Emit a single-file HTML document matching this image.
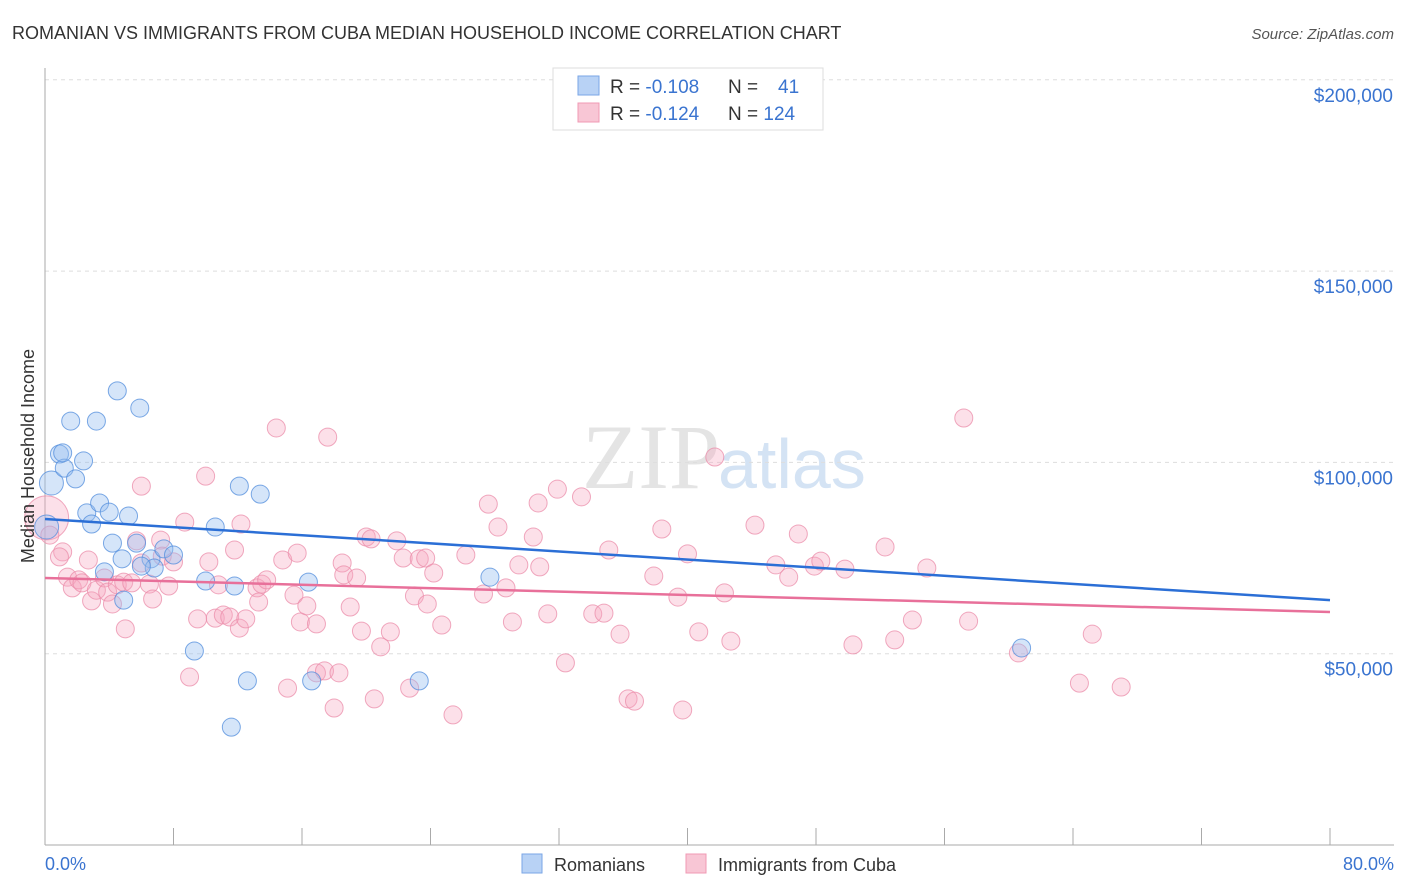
<!DOCTYPE html>
<html><head><meta charset="utf-8">
<style>
body{margin:0;background:#fff;font-family:"Liberation Sans",sans-serif;}
#wrap{position:relative;width:1406px;height:892px;overflow:hidden;}
</style></head>
<body>
<div id="wrap">
<svg id="chart" width="1406" height="892">
  <text x="12" y="39" font-size="18" fill="#333">ROMANIAN VS IMMIGRANTS FROM CUBA MEDIAN HOUSEHOLD INCOME CORRELATION CHART</text>
  <text x="1394" y="39" font-size="15" fill="#555" font-style="italic" text-anchor="end">Source: ZipAtlas.com</text>
  <text x="720" y="488" font-size="92" fill="#e4e4e4" text-anchor="end" font-family="Liberation Serif">ZIP</text>
  <text x="718" y="488" font-size="70" fill="#d4e3f4">atlas</text>
  <g id="grid"></g>
  <g id="axes"></g>
  <g id="pts"></g>
  <g id="lines"></g>
  <text x="34" y="456" font-size="18" fill="#333" text-anchor="middle" transform="rotate(-90 34 456)">Median Household Income</text>
  <text x="45" y="870" font-size="18" fill="#3a74d0">0.0%</text>
  <text x="1394" y="870" font-size="18" fill="#3a74d0" text-anchor="end">80.0%</text>
  <g>
    <rect x="553" y="68" width="270" height="62" fill="#fff" stroke="#ddd"/>
    <rect x="578" y="76" width="21" height="19" fill="#b8d2f5" stroke="#7aa6e6"/>
    <rect x="578" y="103" width="21" height="19" fill="#f8c6d5" stroke="#f09ab4"/>
    <text x="610" y="93" font-size="19" fill="#333">R = <tspan fill="#3a74d0">-0.108</tspan></text>
    <text x="728" y="93" font-size="19" fill="#333">N = <tspan fill="#3a74d0" x="778">41</tspan></text>
    <text x="610" y="120" font-size="19" fill="#333">R = <tspan fill="#3a74d0">-0.124</tspan></text>
    <text x="728" y="120" font-size="19" fill="#333">N = <tspan fill="#3a74d0">124</tspan></text>
  </g>
  <g>
    <rect x="522" y="854" width="20" height="19" fill="#b8d2f5" stroke="#7aa6e6"/>
    <text x="554" y="871" font-size="18" fill="#333">Romanians</text>
    <rect x="686" y="854" width="20" height="19" fill="#f8c6d5" stroke="#f09ab4"/>
    <text x="718" y="871" font-size="18" fill="#333">Immigrants from Cuba</text>
  </g>
</svg>
</div>
<script>
const yTicks=[50,100,150,200];
const yTickLabels=["$50,000","$100,000","$150,000","$200,000"];
const xTicks=[0,8,16,24,32,40,48,56,64,72,80];
const blueX=[0.4,0.1,0.9,1.2,1.6,1.1,1.9,2.4,3.2,4.5,5.9,2.6,3.4,4.0,5.2,2.9,4.2,5.7,4.8,6.6,7.4,8.0,6.8,3.7,6.0,4.9,10.0,11.8,10.6,12.1,13.4,9.3,12.6,11.6,16.6,16.4,23.3,27.7,60.8];
const blueY=[94.6,83.1,102.2,98.5,110.8,102.5,95.7,100.4,110.8,118.7,114.2,86.8,89.4,87.0,86.0,83.9,78.9,78.9,74.8,74.8,77.4,75.8,72.4,71.4,72.9,64.0,69.0,67.7,83.1,93.8,91.7,50.7,42.9,30.8,42.9,68.7,42.9,70.0,51.5];
const pinkX=[0.1,0.3,1.1,0.9,1.4,1.7,2.1,2.3,2.7,2.9,3.2,3.7,3.9,4.2,4.5,4.9,5.0,5.4,5.7,6.0,6.5,6.7,7.2,7.3,7.7,8.0,6.0,8.7,9.0,9.5,10.0,10.2,10.6,10.8,11.1,11.5,11.8,12.1,12.2,12.5,13.2,13.3,13.5,13.8,14.4,14.8,15.1,15.5,15.7,15.9,16.3,16.9,17.6,18.0,16.9,17.4,18.3,18.5,18.6,19.0,19.4,19.7,20.0,20.3,20.5,20.9,21.5,21.9,22.3,22.7,23.0,23.3,23.7,23.8,24.2,24.7,25.4,26.2,27.3,27.6,28.2,28.7,29.1,29.5,30.4,30.8,31.3,30.7,31.9,32.4,33.4,34.1,34.8,35.1,35.8,36.3,36.7,37.9,38.4,39.4,39.7,40.0,40.7,41.7,42.3,42.7,44.2,45.5,46.3,46.9,47.9,48.3,49.8,50.3,52.3,52.9,54.0,54.9,57.2,57.5,60.6,64.4,65.2,67.0];
const pinkY=[85.5,81.0,76.6,75.3,70.0,67.2,69.3,68.5,74.5,63.8,66.6,69.8,66.1,63.0,68.0,68.7,56.5,68.5,79.5,73.7,68.2,64.3,79.7,75.5,67.7,74.0,93.8,84.4,43.9,59.1,96.4,74.0,59.3,68.0,60.1,59.6,77.1,56.7,83.9,59.1,67.2,63.5,68.2,69.3,109.0,74.5,41.0,65.3,76.3,58.3,62.5,57.8,106.6,35.8,45.0,45.5,45.0,73.7,70.6,62.2,69.8,55.9,80.5,80.0,38.2,51.8,55.7,79.5,75.0,41.0,65.1,74.8,75.0,63.0,71.1,57.5,34.0,75.8,65.6,89.1,83.1,67.2,58.3,73.2,80.5,72.7,60.4,89.4,93.0,47.6,91.0,60.4,60.6,77.1,55.1,38.2,37.6,70.3,82.6,64.8,35.3,76.1,55.7,101.4,65.9,53.3,83.6,73.2,70.0,81.3,72.9,74.2,72.1,52.3,77.9,53.6,58.8,72.4,111.6,58.5,50.2,42.3,55.1,41.3];
const blueTrend=[85.2,64.0];
const pinkTrend=[69.8,60.9];

const X=v=>45+v/80*1285;
const Y=v=>845-v*3.826;
const NS="http://www.w3.org/2000/svg";
function mk(tag,attrs,parent){const e=document.createElementNS(NS,tag);for(const k in attrs)e.setAttribute(k,attrs[k]);parent.appendChild(e);return e;}
const grid=document.getElementById('grid'),axes=document.getElementById('axes'),pts=document.getElementById('pts'),lines=document.getElementById('lines');
yTicks.forEach((t,i)=>{
  const l=mk('line',{x1:45,x2:1394,y1:Y(t),y2:Y(t),stroke:'#ddd','stroke-dasharray':'4,4'},grid);
  
  
  const tx=mk('text',{x:1393,y:Y(t)+22,'font-size':19,fill:'#3a74d0','text-anchor':'end'},grid);
  tx.textContent=yTickLabels[i];
  
  
});
const ya=mk('line',{x1:45,x2:45,y1:68,y2:845,stroke:'#aaa'},axes);


const xa=mk('line',{x1:45,x2:1394,y1:845,y2:845,stroke:'#aaa'},axes);


xTicks.forEach(t=>{
  const l=mk('line',{x1:X(t),x2:X(t),y1:828,y2:845,stroke:'#aaa'},axes);
  
  
});
pinkX.forEach((x,i)=>{
  const c=mk('circle',{cx:X(x),cy:Y(pinkY[i]),r:i==0?22:9,fill:'rgba(245,165,192,0.35)',stroke:'rgba(235,140,170,0.75)','stroke-width':1},pts);
  
  
});
blueX.forEach((x,i)=>{
  const c=mk('circle',{cx:X(x),cy:Y(blueY[i]),r:i<2?12:9,fill:'rgba(150,190,240,0.4)',stroke:'rgba(80,140,220,0.75)','stroke-width':1},pts);
  
  
});
const bl=mk('line',{x1:X(0),y1:Y(blueTrend[0]),x2:X(80),y2:Y(blueTrend[1]),stroke:'#2b6fd6','stroke-width':2.5},lines);


const pl=mk('line',{x1:X(0),y1:Y(pinkTrend[0]),x2:X(80),y2:Y(pinkTrend[1]),stroke:'#e8709a','stroke-width':2.5},lines);


</script>
</body></html>
